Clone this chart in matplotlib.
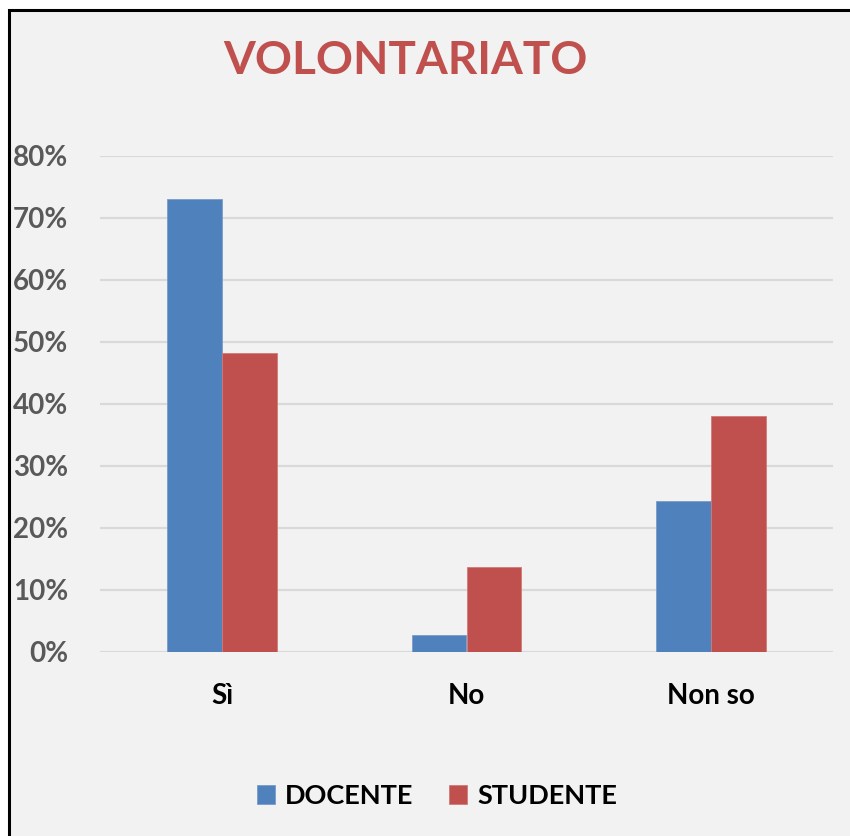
import matplotlib
matplotlib.use("Agg")
import matplotlib.pyplot as plt
import numpy as np
from matplotlib.patches import Rectangle

# Data
categories = ["Sì", "No", "Non so"]
docente = [0.73, 0.027, 0.243]
studente = [0.483, 0.137, 0.38]
series_names = ["DOCENTE", "STUDENTE"]

c_doc = "#4F81BD"
c_stu = "#C0504D"
c_bg = "#F2F2F2"

plt.rcParams["font.family"] = ["Lato", "DejaVu Sans"]

fig = plt.figure(figsize=(8.5, 8.36), dpi=100, facecolor="white")

# chart background with border on top/left (cropped screenshot)
bg = Rectangle((9 / 850, -0.1), 1.2, 0.1 + 1 - 9.5 / 836, transform=fig.transFigure,
               facecolor=c_bg, edgecolor="black", linewidth=2.2, zorder=-5)
fig.patches.append(bg)

ax = fig.add_axes([100 / 850, 1 - 652 / 836, 733 / 850, (652 - 156) / 836])
ax.set_facecolor("none")

x = np.arange(len(categories))
width = 0.225
ax.bar(x - width / 2, docente, width, color=c_doc, label=series_names[0], zorder=3,
       edgecolor="#7A9CCB", linewidth=0.6)
ax.bar(x + width / 2, studente, width, color=c_stu, label=series_names[1], zorder=3,
       edgecolor="#D07A78", linewidth=0.6)

ax.set_xlim(-0.5, len(categories) - 0.5)
ax.set_ylim(0, 0.8)
yt = np.arange(0, 0.81, 0.1)
ax.set_yticks(yt)
ax.set_yticklabels([f"{int(round(v * 100))}%" for v in yt], fontsize=20,
                   fontweight="bold", color="#595959")
ax.set_xticks(x)
ax.set_xticklabels(categories, fontsize=20, fontweight="bold", color="black")
ax.tick_params(axis="both", length=0)
ax.tick_params(axis="y", pad=23)
ax.tick_params(axis="x", pad=22)
ax.grid(axis="y", color="#D9D9D9", linewidth=1.6, zorder=0)
for s in ax.spines.values():
    s.set_visible(False)

fig.text(405 / 850, 1 - 61 / 836, "VOLONTARIATO", fontsize=33, fontweight="bold",
         color=c_stu, ha="center", va="center")

fig.legend(loc="center", bbox_to_anchor=(437 / 850, 1 - 796 / 836), ncol=2,
           frameon=False, prop={"size": 19.5, "weight": "bold"}, handlelength=0.68,
           handleheight=0.68, handletextpad=0.38, columnspacing=1.3)

fig.savefig("out.png", dpi=100, facecolor="white")
